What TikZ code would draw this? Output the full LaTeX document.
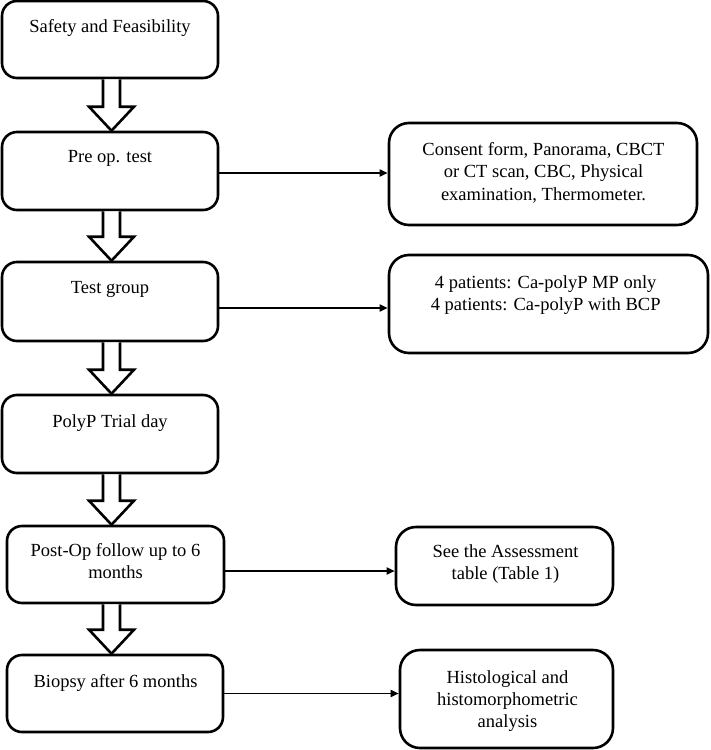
\documentclass[tikz,border=0pt]{standalone}
\usepackage{fontspec}
\setmainfont{Liberation Serif}
\usetikzlibrary{arrows.meta,calc}
\tikzset{
  box/.style={draw=black, line width=2.6pt, rounded corners=15pt, fill=white, inner sep=0pt},
  txt/.style={inner sep=0pt, align=center, font=\fontsize{18.5}{22}\selectfont},
  barrow/.style={draw=black, line width=2.6pt, fill=white, line join=miter},
  conn/.style={draw=black, line width=1.7pt, -{Triangle[length=8pt,width=7pt]}}
}
\begin{document}
\begin{tikzpicture}[x=1pt,y=-1pt]
\useasboundingbox (0,0) rectangle (710,750);
% left column
\node[box, minimum width=216pt, minimum height=77pt] (b1) at (110,39.5) {};
\node[box, minimum width=216pt, minimum height=78pt] (b2) at (110,171) {};
\node[box, minimum width=216pt, minimum height=79pt] (b3) at (110,301.5) {};
\node[box, minimum width=216pt, minimum height=78pt] (b4) at (110,434) {};
\node[box, minimum width=217pt, minimum height=77pt] (b5) at (115.5,564.5) {};
\node[box, minimum width=216pt, minimum height=77pt] (b6) at (115,693.5) {};
% right column
\node[box, rounded corners=20pt, minimum width=308pt, minimum height=102pt] (r1) at (543,174) {};
\node[box, rounded corners=20pt, minimum width=319pt, minimum height=98pt] (r2) at (548.5,304) {};
\node[box, rounded corners=20pt, minimum width=217pt, minimum height=78pt] (r3) at (504.5,566) {};
\node[box, rounded corners=20pt, minimum width=213pt, minimum height=98pt] (r4) at (506.5,699) {};
% texts
\node[txt] (t1) at (110,27.7) {Safety and Feasibility};
\node[txt] (t2) at (110,158.9) {Pre op. test};
\node[txt] (t3) at (110,289.9) {Test group};
\node[txt] (t4) at (110,422.7) {PolyP Trial day};
\node[txt] (t5) at (115.5,561.2) {Post-Op follow up to 6\\months};
\node[txt] (t6) at (115.5,682.7) {Biopsy after 6 months};
\node[txt, font=\fontsize{18.5}{22.5}\selectfont] (u1) at (543.5,172.9) {Consent form, Panorama, CBCT\\or CT scan, CBC, Physical\\examination, Thermometer.};
\node[txt] (u2) at (545.7,294.7) {4 patients: Ca-polyP MP only\\4 patients: Ca-polyP with BCP};
\node[txt] (u3) at (505.5,564.3) {See the Assessment\\table (Table 1)};
\node[txt] (u4) at (507.5,700.7) {Histological and\\histomorphometric\\analysis};
% block arrows
\foreach \a/\b in {b1/b2,b2/b3,b3/b4,b4/b5,b5/b6}{
  \draw[barrow] (103,0 |- \a.south) -- (103,0 |- {$(\b.north)+(0,24pt)$}) -- (89,0 |- {$(\b.north)+(0,24pt)$}) -- (111.5,0 |- \b.north) -- (134,0 |- {$(\b.north)+(0,24pt)$}) -- (120,0 |- {$(\b.north)+(0,24pt)$}) -- (120,0 |- \a.south);
}
% connectors
\draw[conn] ([yshift=-2pt]b2.east) -- ([yshift=-2pt]b2.east -| r1.west);
\draw[conn] ([yshift=-6.5pt]b3.east) -- ([yshift=-6.5pt]b3.east -| r2.west);
\draw[conn] ([yshift=-6.5pt]b5.east) -- ([yshift=-6.5pt]b5.east -| r3.west);
\draw[conn] (b6.east) -- (b6.east -| r4.west);
\end{tikzpicture}
\end{document}
